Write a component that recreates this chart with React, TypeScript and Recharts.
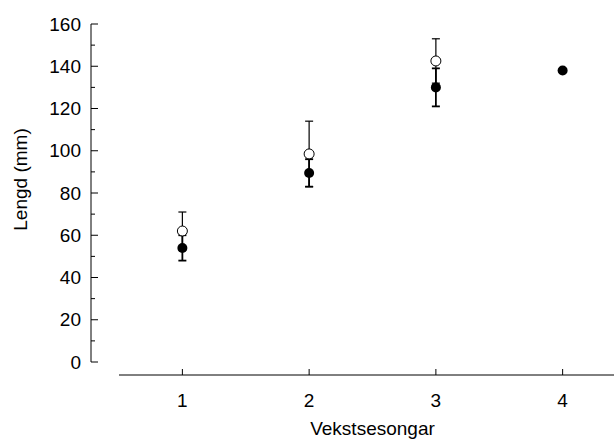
import { ErrorBar, Label, Scatter, ScatterChart, XAxis, YAxis } from 'recharts';

const seasons = [1, 2, 3, 4];
const filledMean = [54, 89.5, 130, 138];
const filledErr: (number | null)[] = [6, 6.5, 9, null];
const openSeasons = [1, 2, 3];
const openMean = [62, 98.5, 142.5];
const openErr = [9, 15.5, 10.5];

const xTicks = [1, 2, 3, 4];
const yTicks = [0, 10, 20, 30, 40, 50, 60, 70, 80, 90, 100, 110, 120, 130, 140, 150, 160];

const FONT = '"Liberation Sans", Arial, sans-serif';
const FS = 19;

const filledData = seasons.map((s, i) => ({ x: s, y: filledMean[i], err: filledErr[i] }));
const openData = openSeasons.map((s, i) => ({ x: s, y: openMean[i], err: openErr[i] }));

const YTick = (props: any) => {
  const { x, y, payload } = props;
  const major = payload.value % 20 === 0;
  const ax = x + 10;
  return (
    <g>
      <line x1={ax} x2={ax + (major ? 7 : 4)} y1={y} y2={y} stroke="#000" />
      {major && (
        <text x={x} y={y} dy="0.35em" textAnchor="end" fontSize={FS} fill="#000" fontFamily={FONT}>
          {payload.value}
        </text>
      )}
    </g>
  );
};

const YTitle = (props: any) => {
  const { viewBox } = props;
  const cx = viewBox.x + 20;
  const cy = viewBox.y + viewBox.height / 2 - 20;
  return (
    <text x={cx} y={cy} transform={`rotate(-90, ${cx}, ${cy})`} textAnchor="middle" dy="0.35em" fontSize={FS} fill="#000" fontFamily={FONT}>
      Lengd (mm)
    </text>
  );
};

const XTitle = (props: any) => {
  const { viewBox } = props;
  const cx = viewBox.x + viewBox.width / 2 + 14;
  const cy = viewBox.y + 53;
  return (
    <text x={cx} y={cy} textAnchor="middle" dy="0.35em" fontSize={FS} fill="#000" fontFamily={FONT}>
      Vekstsesongar
    </text>
  );
};

const FilledDot = (p: any) => <circle cx={p.cx} cy={p.cy} r={5} fill="#000" />;
const OpenDot = (p: any) => <circle cx={p.cx} cy={p.cy} r={5} fill="#fff" stroke="#000" strokeWidth={1} />;

export default function App() {
  return (
    <div style={{ position: 'absolute', left: 0, top: 0, width: 614, height: 446, overflow: 'hidden', background: '#fff', fontFamily: FONT }}>
      <ScatterChart width={640} height={446} margin={{ top: 24, right: 14, bottom: 0, left: 0 }}>
        <XAxis
          type="number"
          dataKey="x"
          domain={[0.5, 4.5]}
          ticks={xTicks}
          padding={{ left: 28, right: 0 }}
          height={71}
          allowDataOverflow
          axisLine={{ stroke: '#000', strokeDasharray: '0 28 1000' }}
          tickLine={{ stroke: '#000' }}
          tickSize={-6}
          tickMargin={25}
          tick={{ fill: '#000', fontSize: FS, fontFamily: FONT }}
        >
          <Label content={XTitle} />
        </XAxis>
        <YAxis
          type="number"
          dataKey="y"
          domain={[0, 160]}
          ticks={yTicks}
          padding={{ top: 0, bottom: 13 }}
          width={91}
          allowDataOverflow
          interval={0}
          axisLine={{ stroke: '#000', strokeDasharray: '338 100' }}
          tickLine={false}
          tickSize={0}
          tickMargin={10}
          tick={<YTick />}
        >
          <Label content={YTitle} />
        </YAxis>
        <Scatter data={filledData} shape={FilledDot} isAnimationActive={false}>
          <ErrorBar dataKey="err" direction="y" width={4} stroke="#000" strokeWidth={1.8} isAnimationActive={false} />
        </Scatter>
        <Scatter data={openData} shape={OpenDot} isAnimationActive={false}>
          <ErrorBar dataKey="err" direction="y" width={4} stroke="#000" strokeWidth={1.2} isAnimationActive={false} />
        </Scatter>
      </ScatterChart>
    </div>
  );
}
